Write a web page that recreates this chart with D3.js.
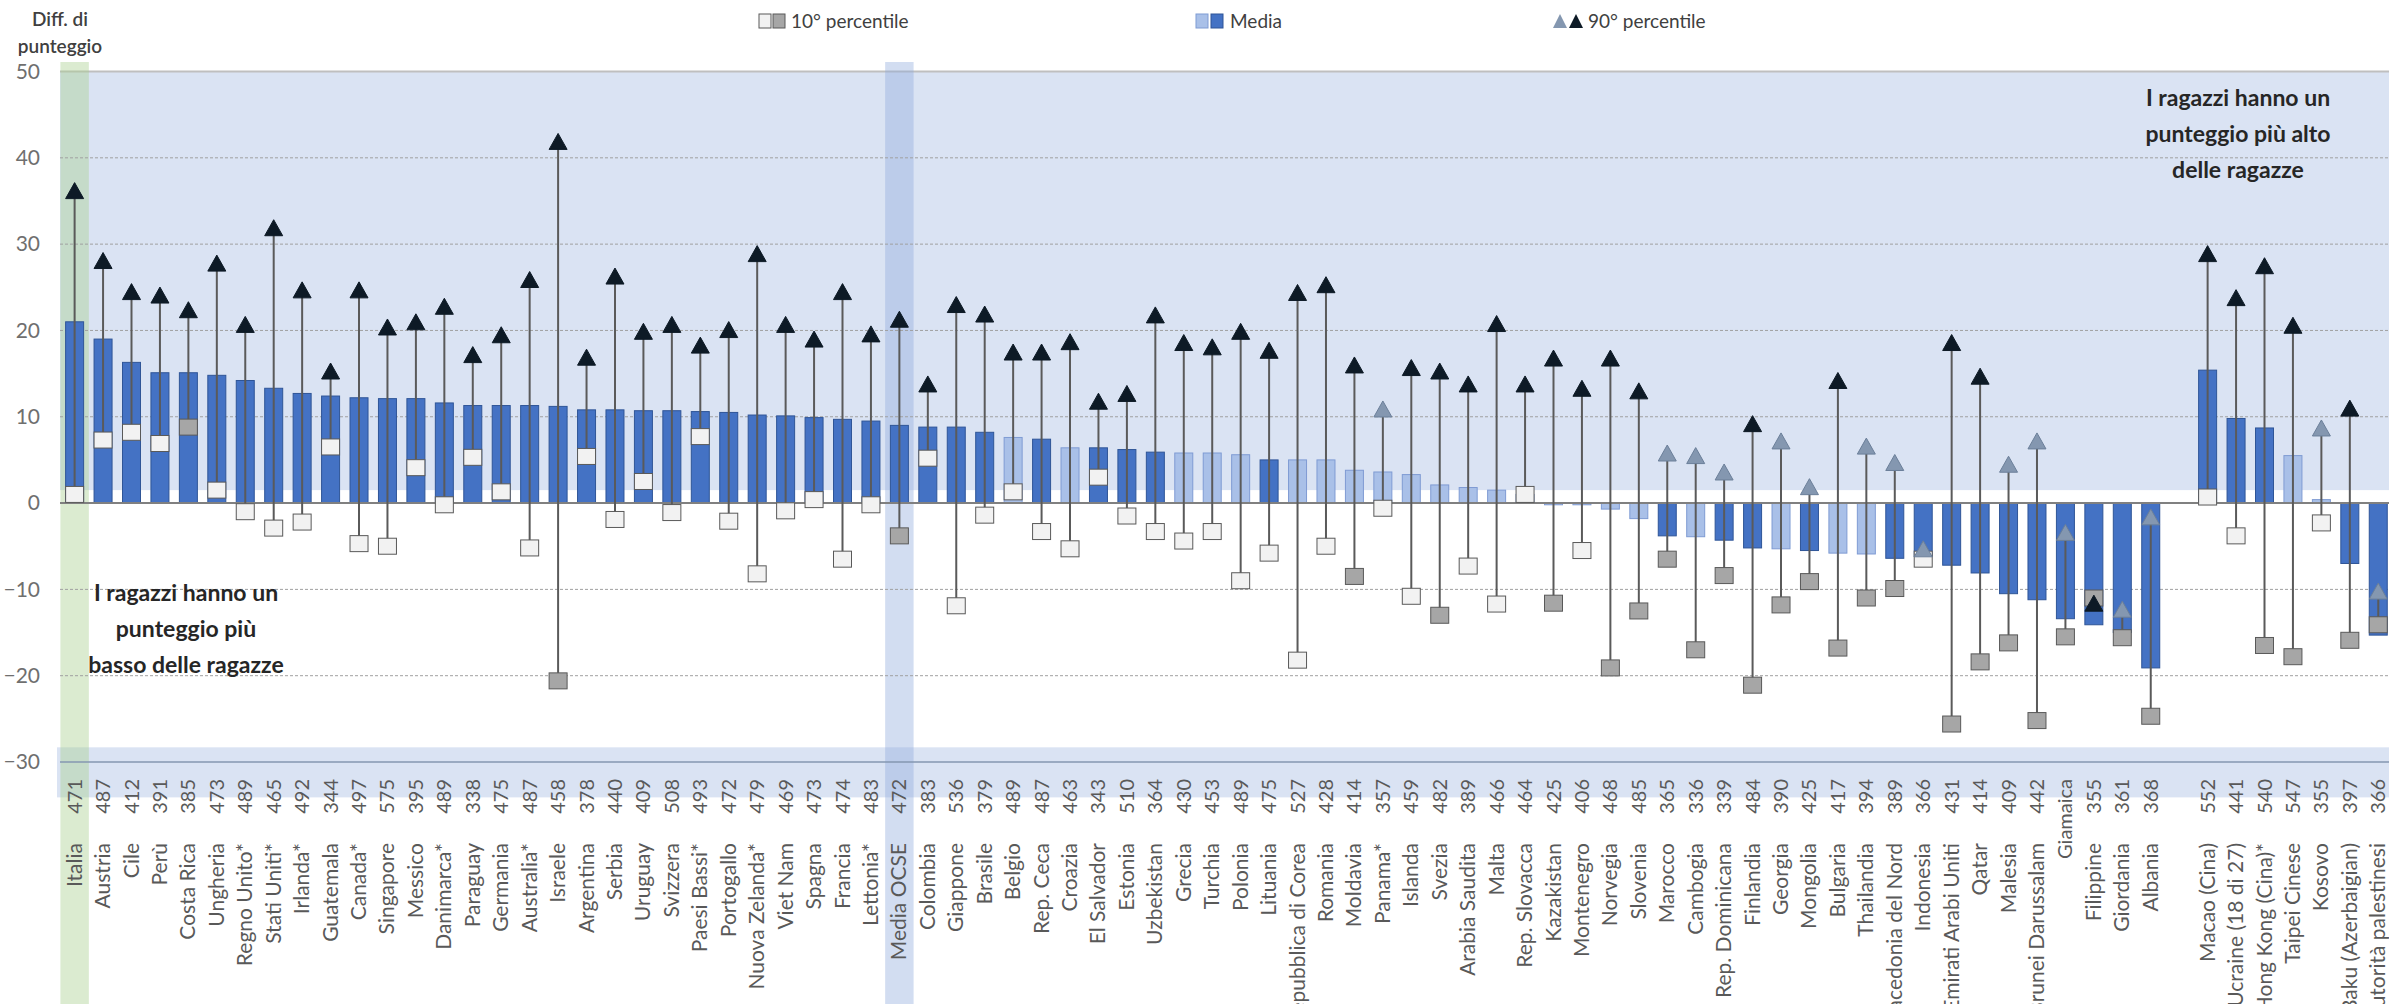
<!DOCTYPE html>
<html><head><meta charset="utf-8">
<script src="https://cdn.jsdelivr.net/npm/d3@7"></script>
<style>
body{margin:0;background:#fff;}
svg{display:block;font-family:Lato,"Open Sans",sans-serif;}
</style>
</head><body>
<svg id="chart" width="2389" height="1004"></svg>
<script>
const categories = ["Italia","Austria","Cile","Perù","Costa Rica","Ungheria","Regno Unito*","Stati Uniti*","Irlanda*","Guatemala","Canada*","Singapore","Messico","Danimarca*","Paraguay","Germania","Australia*","Israele","Argentina","Serbia","Uruguay","Svizzera","Paesi Bassi*","Portogallo","Nuova Zelanda*","Viet Nam","Spagna","Francia","Lettonia*","Media OCSE","Colombia","Giappone","Brasile","Belgio","Rep. Ceca","Croazia","El Salvador","Estonia","Uzbekistan","Grecia","Turchia","Polonia","Lituania","Repubblica di Corea","Romania","Moldavia","Panama*","Islanda","Svezia","Arabia Saudita","Malta","Rep. Slovacca","Kazakistan","Montenegro","Norvegia","Slovenia","Marocco","Cambogia","Rep. Dominicana","Finlandia","Georgia","Mongolia","Bulgaria","Thailandia","Macedonia del Nord","Indonesia","Emirati Arabi Uniti","Qatar","Malesia","Brunei Darussalam","Giamaica","Filippine","Giordania","Albania","Macao (Cina)","Ucraine (18 di 27)","Hong Kong (Cina)*","Taipei Cinese","Kosovo","Baku (Azerbaigian)","Autorità palestinesi"];
const scores = [471,487,412,391,385,473,489,465,492,344,497,575,395,489,338,475,487,458,378,440,409,508,493,472,479,469,473,474,483,472,383,536,379,489,487,463,343,510,364,430,453,489,475,527,428,414,357,459,482,389,466,464,425,406,468,485,365,336,339,484,390,425,417,394,389,366,431,414,409,442,null,355,361,368,552,441,540,547,355,397,366];
const meanDiff = [21.0,19.0,16.3,15.1,15.1,14.8,14.2,13.3,12.7,12.4,12.2,12.1,12.1,11.6,11.3,11.3,11.3,11.2,10.8,10.8,10.7,10.7,10.6,10.5,10.2,10.1,9.9,9.7,9.5,9.0,8.8,8.8,8.2,7.6,7.4,6.4,6.4,6.2,5.9,5.8,5.8,5.6,5.0,5.0,5.0,3.8,3.6,3.3,2.1,1.8,1.5,1.0,-0.2,-0.2,-0.7,-1.8,-3.8,-3.9,-4.3,-5.2,-5.3,-5.5,-5.8,-5.9,-6.4,-6.2,-7.2,-8.1,-10.5,-11.2,-13.4,-14.1,-15.0,-19.1,15.4,9.8,8.7,5.5,0.4,-7.0,-15.3];
const p10Diff = [1.0,7.3,8.2,6.9,8.8,1.5,-1.0,-2.9,-2.2,6.5,-4.7,-5.0,4.1,-0.2,5.3,1.3,-5.2,-20.6,5.4,-1.9,2.5,-1.1,7.7,-2.1,-8.2,-0.9,0.4,-6.5,-0.2,-3.8,5.2,-11.9,-1.4,1.3,-3.3,-5.3,3.0,-1.5,-3.3,-4.4,-3.3,-9.0,-5.8,-18.2,-5.0,-8.5,-0.6,-10.8,-13.0,-7.3,-11.7,1.0,-11.6,-5.5,-19.1,-12.5,-6.5,-17.0,-8.4,-21.1,-11.8,-9.1,-16.8,-11.0,-9.9,-6.5,-25.6,-18.4,-16.2,-25.2,-15.5,-11.0,-15.6,-24.7,0.7,-3.8,-16.5,-17.8,-2.3,-15.9,-14.1];
const p90Diff = [36.2,28.1,24.5,24.1,22.4,27.8,20.7,31.9,24.7,15.3,24.7,20.4,21.0,22.8,17.2,19.5,25.9,41.9,16.9,26.3,19.9,20.7,18.3,20.1,28.9,20.7,19.0,24.5,19.6,21.3,13.8,23.0,21.9,17.5,17.5,18.7,11.8,12.7,21.8,18.6,18.1,19.9,17.7,24.4,25.3,16.0,10.9,15.7,15.3,13.8,20.8,13.8,16.8,13.3,16.8,13.0,5.8,5.5,3.6,9.2,7.2,1.9,14.2,6.6,4.7,-5.3,18.6,14.7,4.5,7.2,-3.4,-11.6,-12.3,-1.6,28.9,23.8,27.5,20.6,8.7,11.0,-10.2];
const meanSig = [1,1,1,1,1,1,1,1,1,1,1,1,1,1,1,1,1,1,1,1,1,1,1,1,1,1,1,1,1,1,1,1,1,0,1,0,1,1,1,0,0,0,1,0,0,0,0,0,0,0,0,0,0,0,0,0,1,0,1,1,0,1,0,0,1,1,1,1,1,1,1,1,1,1,1,1,1,0,0,1,1];
const p10Sig = [0,0,0,0,1,0,0,0,0,0,0,0,0,0,0,0,0,1,0,0,0,0,0,0,0,0,0,0,0,1,0,0,0,0,0,0,0,0,0,0,0,0,0,0,0,1,0,0,1,0,0,0,1,0,1,1,1,1,1,1,1,1,1,1,1,0,1,1,1,1,1,1,1,1,0,0,1,1,0,1,1];
const p90Sig = [1,1,1,1,1,1,1,1,1,1,1,1,1,1,1,1,1,1,1,1,1,1,1,1,1,1,1,1,1,1,1,1,1,1,1,1,1,1,1,1,1,1,1,1,1,1,0,1,1,1,1,1,1,1,1,1,0,0,0,1,0,0,1,0,0,0,1,1,0,0,0,1,0,0,1,1,1,1,0,1,0];
const gapAfter = "Albania";
const yTicks = [50,40,30,20,10,0,-10,-20,-30];
const gridTicks = [40,30,20,10,-10,-20];
const legendItems = ["10° percentile","Media","90° percentile"];
const yTitle = ["Diff. di","punteggio"];
const noteLow = ["I ragazzi hanno un","punteggio più","basso delle ragazze"];
const noteHigh = ["I ragazzi hanno un","punteggio più alto","delle ragazze"];

const W = 2389, H = 1004;
const svg = d3.select("#chart");
const data = categories.map((c,i)=>({name:c, score:scores[i], mean:meanDiff[i], p10:p10Diff[i], p90:p90Diff[i], ms:meanSig[i], s10:p10Sig[i], s90:p90Sig[i]}));
const domain = [];
categories.forEach(c=>{domain.push(c); if(c===gapAfter) domain.push("__gap__");});

const x = d3.scaleBand().domain(domain).range([60.4, 60.4 + domain.length*28.44]).paddingInner(0).paddingOuter(0);
const y = d3.scaleLinear().domain([-30,50]).range([762,71.5]);
const bw = 18;
const cx = d => x(d) + x.bandwidth()/2;

svg.append("rect").attr("width",W).attr("height",H).attr("fill","#fff");

// background bands
svg.append("rect").attr("x",60).attr("y",y(50)).attr("width",W-60).attr("height",y(1.5)-y(50)).attr("fill","#dae3f3");
svg.append("rect").attr("x",57).attr("y",y(-28.3)).attr("width",W-57).attr("height",y(-34.1)-y(-28.3)).attr("fill","#dae3f3");
svg.append("line").attr("x1",60).attr("x2",W).attr("y1",y(50)).attr("y2",y(50)).attr("stroke","#bfbfbf").attr("stroke-width",2);

// highlight columns
svg.append("rect").attr("x",x("Italia")).attr("y",62).attr("width",x.bandwidth()).attr("height",H-62).attr("fill","#a9d08e").attr("opacity",0.42);
svg.append("rect").attr("x",x("Media OCSE")).attr("y",62).attr("width",x.bandwidth()).attr("height",H-62).attr("fill","#8faadc").attr("opacity",0.4);

// grid
svg.append("g").selectAll("line").data(gridTicks).join("line")
  .attr("x1",60).attr("x2",W).attr("y1",d=>y(d)).attr("y2",d=>y(d))
  .attr("stroke","#a0a0a0").attr("stroke-width",1).attr("stroke-dasharray","3,2");

// y axis labels
const yAxis = d3.axisLeft(y).tickValues(yTicks).tickSize(0).tickPadding(0).tickFormat(d3.format("d"));
const ya = svg.append("g").attr("transform","translate(40,0)").call(yAxis);
ya.select(".domain").remove();
ya.selectAll("text").attr("font-size",21).attr("fill","#6f6f6f").attr("font-family","Lato,sans-serif");

// bars
svg.append("g").selectAll("rect").data(data).join("rect")
  .attr("x",d=>cx(d.name)-bw/2).attr("width",bw)
  .attr("y",d=>y(Math.max(0,d.mean))).attr("height",d=>Math.abs(y(d.mean)-y(0)))
  .attr("fill",d=>d.ms?"#4472c4":"#a9c0e8")
  .attr("stroke",d=>d.ms?"#2f5597":"#7f9bd3").attr("stroke-width",1);

// zero line and axis line
svg.append("line").attr("x1",60).attr("x2",W).attr("y1",y(0)).attr("y2",y(0)).attr("stroke","#808080").attr("stroke-width",2);
svg.append("line").attr("x1",60).attr("x2",W).attr("y1",y(-30)).attr("y2",y(-30)).attr("stroke","#8497b0").attr("stroke-width",1.5);

// whiskers
svg.append("g").selectAll("line").data(data).join("line")
  .attr("x1",d=>cx(d.name)).attr("x2",d=>cx(d.name))
  .attr("y1",d=>y(d.p10)).attr("y2",d=>y(d.p90))
  .attr("stroke","#5a5a5a").attr("stroke-width",2);

// p10 squares
svg.append("g").selectAll("rect").data(data).join("rect")
  .attr("x",d=>cx(d.name)-9).attr("y",d=>y(d.p10)-8).attr("width",18).attr("height",16)
  .attr("fill",d=>d.s10?"#a6a6a6":"#f2f2f2").attr("stroke","#595959").attr("stroke-width",1);

// p90 triangles
const tri = (px,py)=>`M${px},${py-8}L${px+9},${py+8}L${px-9},${py+8}Z`;
svg.append("g").selectAll("path").data(data).join("path")
  .attr("d",d=>tri(cx(d.name),y(d.p90)))
  .attr("fill",d=>d.s90?"#0d1a26":"#8497b0")
  .attr("stroke",d=>d.s90?"#0d1a26":"#6b7f99").attr("stroke-width",1);

// score labels
svg.append("g").selectAll("text").data(data).join("text")
  .attr("transform",d=>`translate(${cx(d.name)+7},779) rotate(-90)`)
  .attr("text-anchor","end").attr("font-size",20).attr("fill","#595959")
  .text(d=>d.score===null?d.name:d.score);

// country labels
svg.append("g").selectAll("text").data(data.filter(d=>d.score!==null)).join("text")
  .attr("transform",d=>`translate(${cx(d.name)+7},843) rotate(-90)`)
  .attr("text-anchor","end").attr("font-size",21).attr("fill","#595959")
  .text(d=>d.name);

// y title
svg.append("g").selectAll("text").data(yTitle).join("text")
  .attr("x",60).attr("y",(d,i)=>26+i*27).attr("text-anchor","middle")
  .attr("font-size",19).attr("font-weight",600).attr("fill","#404040").text(d=>d);

// annotations
svg.append("g").selectAll("text").data(noteLow).join("text")
  .attr("x",186).attr("y",(d,i)=>601+i*36).attr("text-anchor","middle")
  .attr("font-size",23).attr("font-weight",700).attr("fill","#262626").text(d=>d);
svg.append("g").selectAll("text").data(noteHigh).join("text")
  .attr("x",2238).attr("y",(d,i)=>106+i*36).attr("text-anchor","middle")
  .attr("font-size",23).attr("font-weight",700).attr("fill","#262626").text(d=>d);

// legend
const lg = svg.append("g").attr("font-size",19).attr("fill","#404040");
const ly = 21;
lg.append("rect").attr("x",759).attr("y",ly-7).attr("width",12).attr("height",14).attr("fill","#f2f2f2").attr("stroke","#595959");
lg.append("rect").attr("x",773).attr("y",ly-7).attr("width",12).attr("height",14).attr("fill","#a6a6a6").attr("stroke","#595959");
lg.append("text").attr("x",791).attr("y",ly+7).text(legendItems[0]);
lg.append("rect").attr("x",1196).attr("y",ly-7).attr("width",12).attr("height",14).attr("fill","#a9c0e8").attr("stroke","#7f9bd3");
lg.append("rect").attr("x",1211).attr("y",ly-7).attr("width",12).attr("height",14).attr("fill","#4472c4").attr("stroke","#2f5597");
lg.append("text").attr("x",1230).attr("y",ly+7).text(legendItems[1]);
lg.append("path").attr("d",`M1560,${ly-7}L1567,${ly+7}L1553,${ly+7}Z`).attr("fill","#8497b0");
lg.append("path").attr("d",`M1576,${ly-7}L1583,${ly+7}L1569,${ly+7}Z`).attr("fill","#0d1a26");
lg.append("text").attr("x",1588).attr("y",ly+7).text(legendItems[2]);
</script>
</body></html>
